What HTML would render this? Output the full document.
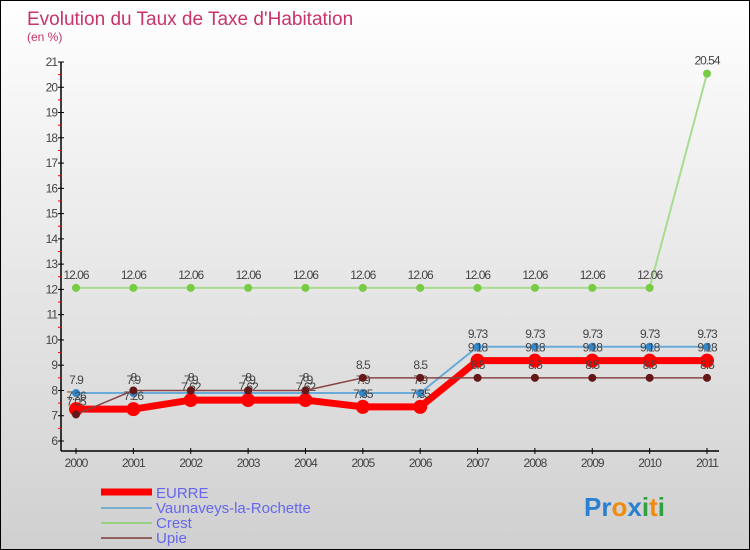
<!DOCTYPE html>
<html><head><meta charset="utf-8"><style>
body{margin:0}
#c{position:relative;width:748px;height:548px;border:1px solid #000;background:linear-gradient(#fff 0%,#f0f0f0 30%,#d0d0d0 100%);overflow:hidden;font-family:"Liberation Sans",sans-serif}
</style></head><body>
<div id="c">
<svg width="748" height="548" id="s">
<text x="26" y="24" font-size="19" fill="#c8336a">Evolution du Taux de Taxe d'Habitation</text>
<text x="26" y="40" font-size="12" fill="#c8336a">(en %)</text>
<g id="axes"></g><g id="series"></g>
<g>
<line x1="100" y1="491" x2="151" y2="491" stroke="#f00" stroke-width="7"/>
<line x1="100" y1="507" x2="151" y2="507" stroke="#7aaed0" stroke-width="2"/>
<line x1="100" y1="522" x2="151" y2="522" stroke="#99d080" stroke-width="2"/>
<line x1="100" y1="537" x2="151" y2="537" stroke="#906060" stroke-width="2"/>
<text x="155" y="497" font-size="15" fill="#6666ee">EURRE</text>
<text x="155" y="512" font-size="15" fill="#6666ee">Vaunaveys-la-Rochette</text>
<text x="155" y="527" font-size="15" fill="#6666ee">Crest</text>
<text x="155" y="542" font-size="15" fill="#6666ee">Upie</text>
</g>
<text x="583" y="515" font-size="26" font-weight="bold"><tspan fill="#2a7fd0">Pr</tspan><tspan fill="#f08a10">o</tspan><tspan fill="#2a7fd0">x</tspan><tspan fill="#30a040">i</tspan><tspan fill="#f08a10">t</tspan><tspan fill="#30a040">i</tspan></text>
</svg>
</div>
<script>
const years=[2000,2001,2002,2003,2004,2005,2006,2007,2008,2009,2010,2011];
const eurre=[7.26,7.26,7.62,7.62,7.62,7.35,7.35,9.18,9.18,9.18,9.18,9.18];
const vaun=[7.9,7.9,7.9,7.9,7.9,7.9,7.9,9.73,9.73,9.73,9.73,9.73];
const crest=[12.06,12.06,12.06,12.06,12.06,12.06,12.06,12.06,12.06,12.06,12.06,20.54];
const upie=[7.05,8,8,8,8,8.5,8.5,8.5,8.5,8.5,8.5,8.5];
const yTicks=[6,7,8,9,10,11,12,13,14,15,16,17,18,19,20,21];
const NS='http://www.w3.org/2000/svg';
const X=i=>75+i*(631/11);
const Y=v=>440-(v-6)*(379/15);
function mk(t,a,p){const e=document.createElementNS(NS,t);for(const k in a)e.setAttribute(k,a[k]);p.appendChild(e);return e;}
const ax=document.getElementById('axes');
let l=mk('line',{x1:60,y1:Y(21),x2:60,y2:450,stroke:'#000','stroke-width':1.5},ax);


l=mk('line',{x1:60,y1:450,x2:718,y2:450,stroke:'#000','stroke-width':1.5},ax);


yTicks.forEach(v=>{
 mk('line',{x1:57,y1:Y(v),x2:63,y2:Y(v),stroke:'#000'},ax);
 if(v<21)mk('line',{x1:57,y1:Y(v+0.5),x2:61,y2:Y(v+0.5),stroke:'#e00'},ax);
 const t=mk('text',{x:56,y:Y(v)+4,'font-size':12,fill:'#444','text-anchor':'end','letter-spacing':'-1'},ax);
 t.textContent=v;
 
 
});
years.forEach((yr,i)=>{
 mk('line',{x1:X(i),y1:447,x2:X(i),y2:453,stroke:'#000'},ax);
 const t=mk('text',{x:X(i),y:466,'font-size':12,fill:'#444','text-anchor':'middle','letter-spacing':'-1'},ax);
 t.textContent=yr;
 
 
});
const sg=document.getElementById('series');
function series(vals,name,col,dot,w,r,lab){
 const g=mk('g',{},sg);
 
 
 mk('polyline',{points:vals.map((v,i)=>X(i)+','+Y(v)).join(' '),fill:'none',stroke:col,'stroke-width':w},g);
 vals.forEach((v,i)=>{
  const c=mk('circle',{cx:X(i),cy:Y(v),r:r,fill:dot},g);
  
  
  if(lab){const t=mk('text',{x:X(i),y:Y(v)-9,'font-size':12,fill:'#444','text-anchor':'middle','letter-spacing':'-1'},g);t.textContent=v;}
 });
}
series(crest,'crest','#a8dc90','#77cc44',2,4,true);
series(vaun,'vaunaveys','#6aaad8','#3388cc',2,4,true);
series(eurre,'eurre','#f00','#f00',7,7,true);
series(upie,'upie','#884444','#661818',1.5,4,true);
</script>
</body></html>
